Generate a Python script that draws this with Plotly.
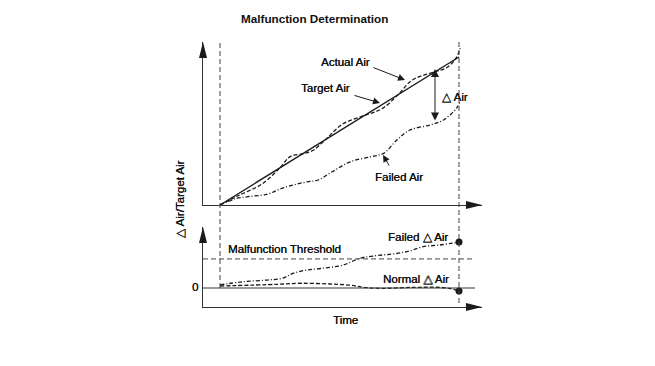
import plotly.graph_objects as go

# ---------------- data ----------------
TIME_TARGET = [0, 10]
TARGET_AIR = [0.0, 1.0]

TIME_ACTUAL = [0, 0.8, 1.75, 2.5, 2.95, 3.45, 3.9, 4.4, 5.15, 6.05, 6.8, 7.45, 8.05, 9.0, 9.45, 9.85, 10.05]
ACTUAL_AIR = [0.0, 0.066, 0.141, 0.25, 0.329, 0.345, 0.37, 0.44, 0.549, 0.605, 0.653, 0.745, 0.845, 0.90, 0.925, 0.985, 1.059]

TIME_FAILED = [0, 0.63, 1.17, 2.0, 2.55, 3.05, 3.6, 4.1, 4.7, 5.45, 6.3, 6.85, 7.4, 7.95, 8.8, 9.35, 9.9, 10.05]
FAILED_AIR = [0.0, 0.041, 0.056, 0.074, 0.11, 0.135, 0.155, 0.169, 0.225, 0.292, 0.326, 0.349, 0.439, 0.507, 0.541, 0.574, 0.655, 0.70]

TIME_FAILED_DELTA = [0, 0.96, 1.97, 2.6, 3.05, 3.65, 4.3, 5.15, 5.85, 6.4, 7.4, 7.95, 8.5, 9.2, 10.0]
FAILED_DELTA = [0.02, 0.041, 0.052, 0.063, 0.095, 0.118, 0.129, 0.150, 0.194, 0.209, 0.226, 0.243, 0.270, 0.281, 0.300]

TIME_NORMAL_DELTA = [0, 2.4, 3.35, 4.6, 5.45, 6.0, 6.7, 8.1, 9.2, 9.6, 10.0]
NORMAL_DELTA = [0.013, 0.024, 0.031, 0.026, 0.018, 0.005, -0.002, 0.004, 0.004, -0.003, -0.02]

THRESHOLD = 0.19
T_START, T_END = 0, 10

TITLE = "Malfunction Determination"
Y_LABEL = "△ Air/Target Air"
X_LABEL = "Time"

# ---------------- layout geometry ----------------
W, H = 655, 366
PAGE_OFF = 8  # default body margin of the html page
def px(x):
    return (x - PAGE_OFF) / W
def py(y):
    return 1 - (y - PAGE_OFF) / H

XS = 23.9           # pixels per time unit
X0PX = 220          # pixel of t = 0
def tx(xpix):
    return (xpix - X0PX) / XS

TOP_S, TOP_Z = 148.0, 205.0   # top panel: px per unit, pixel of y=0
BOT_S, BOT_Z = 153.0, 288.0   # bottom panel
def ty(ypix):
    return (TOP_Z - ypix) / TOP_S

X_RANGE = [tx(203), tx(482)]
TOP_RANGE = [0, (TOP_Z - 42) / TOP_S]
BOT_RANGE = [(BOT_Z - 307) / BOT_S, (BOT_Z - 227) / BOT_S]

FONT = "Arial, 'Liberation Sans', sans-serif"
INK = "#1a1a1a"
AX = "#333333"
TXT = "#111111"
TXT_SHADOW = "0.3px 0 0 #111111"

fig = go.Figure()

fig.add_trace(go.Scatter(x=TIME_TARGET, y=TARGET_AIR, mode="lines",
                         line=dict(color=INK, width=1.4), xaxis="x", yaxis="y"))
fig.add_trace(go.Scatter(x=TIME_ACTUAL, y=ACTUAL_AIR, mode="lines",
                         line=dict(color=INK, width=1.3, dash="4px,2px", shape="spline", smoothing=1.0),
                         xaxis="x", yaxis="y"))
fig.add_trace(go.Scatter(x=TIME_FAILED, y=FAILED_AIR, mode="lines",
                         line=dict(color=INK, width=1.3, dash="4px,2px,1px,2px", shape="spline", smoothing=1.0),
                         xaxis="x", yaxis="y"))
fig.add_trace(go.Scatter(x=TIME_FAILED_DELTA, y=FAILED_DELTA, mode="lines",
                         line=dict(color=INK, width=1.3, dash="4px,2px,1px,2px", shape="spline", smoothing=1.0),
                         xaxis="x2", yaxis="y2"))
fig.add_trace(go.Scatter(x=TIME_NORMAL_DELTA, y=NORMAL_DELTA, mode="lines",
                         line=dict(color=INK, width=1.3, dash="4px,2px", shape="spline", smoothing=1.0),
                         xaxis="x2", yaxis="y2"))
fig.add_trace(go.Scatter(x=[TIME_FAILED_DELTA[-1], TIME_NORMAL_DELTA[-1]],
                         y=[FAILED_DELTA[-1], NORMAL_DELTA[-1]], mode="markers",
                         marker=dict(color=INK, size=7), cliponaxis=False, xaxis="x2", yaxis="y2"))

axis_common = dict(showgrid=False, zeroline=False, showticklabels=False, ticks="",
                   showline=True, linecolor=AX, linewidth=1.2, fixedrange=True)
fig.update_layout(
    width=W, height=H, autosize=False,
    margin=dict(l=0, r=0, t=0, b=0),
    paper_bgcolor="white", plot_bgcolor="rgba(0,0,0,0)",
    showlegend=False,
    font=dict(family=FONT, color=TXT, size=11.5),
    xaxis=dict(domain=[px(203), px(482)], range=X_RANGE, anchor="y", **axis_common),
    yaxis=dict(domain=[py(205), py(42)], range=TOP_RANGE, anchor="x", **axis_common),
    xaxis2=dict(domain=[px(203), px(482)], range=X_RANGE, anchor="y2", **axis_common),
    yaxis2=dict(domain=[py(307), py(227)], range=BOT_RANGE, anchor="x2", **axis_common),
)

shapes = []
# arrow heads on axes (pixel-sized paths anchored at the axis tips, paper refs so they are not clipped)
def head(xa_px, ya_px, path):
    return dict(type="path", xref="paper", yref="paper", xsizemode="pixel", ysizemode="pixel",
                xanchor=px(xa_px), yanchor=py(ya_px), path=path, fillcolor=INK, line=dict(width=0))
UP = "M-4,-16 L0,0 L4,-16 Z"
RIGHT = "M-16,-4 L0,0 L-16,4 Z"
shapes.append(head(203, 42, UP))
shapes.append(head(482, 205, RIGHT))
shapes.append(head(203, 227, UP))
shapes.append(head(482, 307, RIGHT))

# vertical dashed time markers
shapes.append(dict(type="line", xref="x", yref="paper", x0=T_START, x1=T_START,
                   y0=py(288), y1=py(42), line=dict(color="#444444", width=1, dash="5px,3px")))
shapes.append(dict(type="line", xref="x", yref="paper", x0=T_END, x1=T_END,
                   y0=py(303), y1=py(42), line=dict(color="#444444", width=1, dash="5px,3px")))
# zero line and threshold in the lower panel
shapes.append(dict(type="line", xref="x2", yref="y2", x0=X_RANGE[0], x1=tx(475), y0=0, y1=0,
                   line=dict(color=AX, width=1)))
shapes.append(dict(type="line", xref="x2", yref="y2", x0=X_RANGE[0], x1=tx(475),
                   y0=THRESHOLD, y1=THRESHOLD, line=dict(color="#444444", width=1, dash="5px,3px")))
fig.update_layout(shapes=shapes)

ann = []
def label(text, xp, yp, size=11.5, bold=False, angle=0):
    t = f"<b>{text}</b>" if bold else text
    f = dict(size=size, family=FONT, color=TXT)
    if not bold:
        f["shadow"] = TXT_SHADOW
    ann.append(dict(text=t, xref="paper", yref="paper", x=px(xp), y=py(yp),
                    xanchor="center", yanchor="middle", showarrow=False,
                    font=f, textangle=angle))

label(TITLE, 314, 18, size=11.7, bold=True)
label("Actual Air", 346, 62)
label("Target Air", 325, 88)
label("△ Air", 455, 97)
label("Failed Air", 399, 177)
label("Malfunction Threshold", 284, 249)
label("Failed △ Air", 418, 237)
label("Normal △ Air", 416, 279)
label("0", 195, 287)
label(X_LABEL, 345, 320)
label(Y_LABEL, 180, 199, angle=-90)

def arrow(x_tail, y_tail, x_head, y_head, side="end", size=1.4):
    ann.append(dict(text="", xref="x", yref="y", axref="x", ayref="y",
                    x=tx(x_head), y=ty(y_head), ax=tx(x_tail), ay=ty(y_tail),
                    showarrow=True, arrowhead=2, arrowsize=size, arrowwidth=1,
                    arrowcolor=INK, arrowside=side, standoff=0, startstandoff=0))

arrow(372, 67, 405, 80)
arrow(353, 95, 380, 103)
arrow(390, 167, 383, 155)
arrow(435, 122, 435, 69, side="end+start", size=1.6)

fig.update_layout(annotations=ann)

fig.write_html("out.html")
